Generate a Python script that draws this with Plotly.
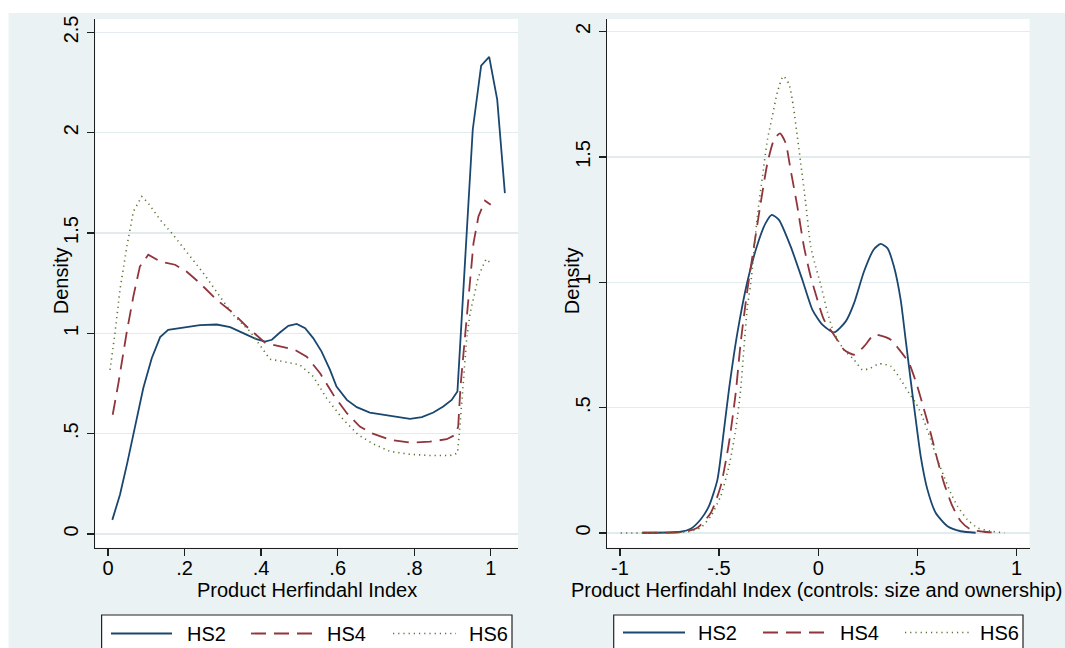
import plotly.graph_objects as go

# ---------------- data ----------------
series_names = ["HS2", "HS4", "HS6"]

# Left panel: Product Herfindahl Index
left_hs2_x = [0.011, 0.031, 0.050, 0.070, 0.092, 0.114, 0.136, 0.157, 0.214, 0.240,
              0.284, 0.319, 0.353, 0.388, 0.410, 0.428, 0.449, 0.471, 0.493, 0.515,
              0.536, 0.558, 0.580, 0.597, 0.624, 0.650, 0.684, 0.737, 0.789, 0.820,
              0.850, 0.876, 0.898, 0.913, 0.953, 0.975, 0.996, 1.017, 1.037]
left_hs2_y = [0.07, 0.195, 0.353, 0.535, 0.727, 0.876, 0.981, 1.017, 1.031, 1.041,
              1.044, 1.031, 1.001, 0.971, 0.959, 0.968, 1.004, 1.037, 1.047, 1.026,
              0.976, 0.909, 0.818, 0.735, 0.668, 0.632, 0.605, 0.589, 0.574, 0.582,
              0.605, 0.635, 0.668, 0.710, 2.015, 2.334, 2.378, 2.165, 1.699]

left_hs4_x = [0.012, 0.027, 0.049, 0.066, 0.083, 0.105, 0.136, 0.175, 0.205, 0.240,
              0.284, 0.327, 0.362, 0.410, 0.432, 0.488, 0.519, 0.554, 0.589, 0.624,
              0.658, 0.689, 0.737, 0.789, 0.841, 0.885, 0.907, 0.915, 0.921, 0.933,
              0.955, 0.968, 0.985, 1.000]
left_hs4_y = [0.594, 0.752, 1.009, 1.184, 1.333, 1.392, 1.358, 1.342, 1.308, 1.250,
              1.167, 1.101, 1.034, 0.954, 0.943, 0.918, 0.884, 0.801, 0.693, 0.602,
              0.535, 0.502, 0.469, 0.455, 0.460, 0.472, 0.494, 0.535, 0.735, 1.001,
              1.450, 1.583, 1.661, 1.641]

left_hs6_x = [0.005, 0.018, 0.031, 0.049, 0.066, 0.088, 0.105, 0.136, 0.170, 0.205,
              0.249, 0.292, 0.327, 0.371, 0.397, 0.423, 0.458, 0.501, 0.536, 0.571,
              0.615, 0.654, 0.693, 0.737, 0.789, 0.841, 0.894, 0.913, 0.918, 0.928,
              0.937, 0.946, 0.959, 0.968, 0.981, 0.988, 1.000]
left_hs6_y = [0.818, 1.001, 1.217, 1.433, 1.607, 1.682, 1.649, 1.566, 1.491, 1.408,
              1.300, 1.184, 1.092, 1.009, 0.943, 0.871, 0.859, 0.843, 0.785, 0.677,
              0.569, 0.494, 0.449, 0.411, 0.397, 0.391, 0.391, 0.402, 0.502, 0.752,
              0.968, 1.100, 1.201, 1.283, 1.342, 1.370, 1.350]

# Right panel: Product Herfindahl Index (controls: size and ownership)
right_hs2_x = [-0.887, -0.693, -0.643, -0.593, -0.551, -0.508, -0.475, -0.450, -0.407, -0.357,
               -0.307, -0.265, -0.234, -0.198, -0.139, -0.080, -0.029, 0.021, 0.080, 0.139,
               0.181, 0.231, 0.281, 0.315, 0.349, 0.382, 0.416, 0.441, 0.466, 0.492,
               0.517, 0.551, 0.593, 0.652, 0.719, 0.794]
right_hs2_y = [0.001, 0.005, 0.017, 0.054, 0.107, 0.213, 0.412, 0.572, 0.800, 1.003,
               1.149, 1.236, 1.269, 1.249, 1.143, 1.010, 0.890, 0.831, 0.800, 0.844,
               0.917, 1.043, 1.132, 1.153, 1.136, 1.063, 0.930, 0.771, 0.612, 0.452,
               0.306, 0.173, 0.080, 0.027, 0.007, 0.001]

right_hs4_x = [-0.887, -0.677, -0.609, -0.542, -0.492, -0.450, -0.416, -0.391, -0.357, -0.324,
               -0.290, -0.256, -0.223, -0.193, -0.164, -0.139, -0.105, -0.072, -0.038, -0.004,
               0.029, 0.080, 0.130, 0.181, 0.231, 0.281, 0.315, 0.366, 0.416, 0.458,
               0.500, 0.534, 0.567, 0.601, 0.634, 0.677, 0.719, 0.769, 0.836, 0.904]
right_hs4_y = [0.001, 0.005, 0.021, 0.080, 0.186, 0.359, 0.558, 0.758, 0.970, 1.143,
               1.316, 1.475, 1.568, 1.594, 1.555, 1.448, 1.302, 1.143, 1.023, 0.930,
               0.851, 0.790, 0.731, 0.711, 0.744, 0.791, 0.787, 0.771, 0.724, 0.678,
               0.585, 0.492, 0.399, 0.293, 0.200, 0.107, 0.047, 0.014, 0.005, 0.001]

right_hs6_x = [-0.996, -0.660, -0.593, -0.542, -0.492, -0.450, -0.416, -0.391, -0.374, -0.357,
               -0.340, -0.307, -0.281, -0.256, -0.234, -0.205, -0.176, -0.147, -0.125, -0.105,
               -0.088, -0.063, -0.038, -0.013, 0.013, 0.046, 0.080, 0.130, 0.181, 0.223,
               0.265, 0.307, 0.366, 0.416, 0.458, 0.492, 0.525, 0.567, 0.601, 0.634,
               0.668, 0.702, 0.752, 0.803, 0.870, 0.939]
right_hs6_y = [0.000, 0.005, 0.021, 0.067, 0.147, 0.266, 0.412, 0.572, 0.744, 0.904,
               0.995, 1.262, 1.422, 1.568, 1.652, 1.760, 1.822, 1.790, 1.700, 1.580,
               1.475, 1.316, 1.143, 1.063, 0.990, 0.883, 0.798, 0.731, 0.691, 0.651,
               0.658, 0.675, 0.665, 0.612, 0.558, 0.519, 0.465, 0.373, 0.293, 0.226,
               0.160, 0.107, 0.054, 0.021, 0.007, 0.001]

# Tick labels
x_left_tickvals = [0, 0.2, 0.4, 0.6, 0.8, 1]
x_left_ticktext = ["0", ".2", ".4", ".6", ".8", "1"]
y_left_tickvals = [0, 0.5, 1, 1.5, 2, 2.5]
y_left_ticktext = ["0", ".5", "1", "1.5", "2", "2.5"]
x_right_tickvals = [-1, -0.5, 0, 0.5, 1]
x_right_ticktext = ["-1", "-.5", "0", ".5", "1"]
y_right_tickvals = [0, 0.5, 1, 1.5, 2]
y_right_ticktext = ["0", ".5", "1", "1.5", "2"]

x_left_title = "Product Herfindahl Index"
x_right_title = "Product Herfindahl Index (controls: size and ownership)"
y_title = "Density"

# ---------------- styling ----------------
W, H = 1065, 648
FONT = "Liberation Sans, Arial, Helvetica, sans-serif"
FS = 20
BG = "#eaf2f3"
GRID = "#e2ebee"
AXC = "#1e1e1e"

styles = {
    "HS2": dict(color="#1a476f", width=1.8, dash="solid"),
    "HS4": dict(color="#90353b", width=1.8, dash="15px,8px"),
    "HS6": dict(color="#55752f", width=1.6, dash="1.2px,4px"),
}


def px_x(p):
    return p / W


def px_y(p):
    return 1 - p / H


# plot-area pixel boxes (page coordinates; figure sits at the page origin)
L_X0, L_X1 = 95.4, 518.0
R_X0, R_X1 = 607.0, 1029.5
Y_TOP, Y_BOT = 19.0, 547.5

fig = go.Figure()

left_data = {"HS2": (left_hs2_x, left_hs2_y), "HS4": (left_hs4_x, left_hs4_y),
             "HS6": (left_hs6_x, left_hs6_y)}
right_data = {"HS2": (right_hs2_x, right_hs2_y), "HS4": (right_hs4_x, right_hs4_y),
              "HS6": (right_hs6_x, right_hs6_y)}

for name in series_names:
    xs, ys = left_data[name]
    fig.add_trace(go.Scatter(x=xs, y=ys, mode="lines", name=name, showlegend=False,
                             line=dict(**styles[name], shape="linear"),
                             xaxis="x", yaxis="y", hoverinfo="skip"))
for name in series_names:
    xs, ys = right_data[name]
    fig.add_trace(go.Scatter(x=xs, y=ys, mode="lines", name=name, showlegend=False,
                             line=dict(**styles[name], shape="spline", smoothing=0.6),
                             xaxis="x2", yaxis="y2", hoverinfo="skip"))

common = dict(showline=True, linecolor=AXC, linewidth=1.3, ticks="outside", ticklen=7,
              tickwidth=1.3, tickcolor=AXC, zeroline=False, automargin=False,
              fixedrange=True, tickfont=dict(family=FONT, size=FS, color="black"))
xcommon = dict(common, showgrid=False, ticklabelstandoff=-5)
ycommon = dict(common, showgrid=True, gridcolor=GRID, gridwidth=1.4, tickangle=-90,
               ticklabelstandoff=1)

fig.update_layout(
    width=W, height=H,
    margin=dict(l=0, r=0, t=0, b=0),
    paper_bgcolor=BG, plot_bgcolor="white",
    showlegend=False,
    xaxis=dict(xcommon, domain=[px_x(L_X0), px_x(L_X1)], range=[-0.0332, 1.0713],
               tickvals=x_left_tickvals, ticktext=x_left_ticktext, anchor="y"),
    yaxis=dict(ycommon, domain=[px_y(Y_BOT), px_y(Y_TOP)], range=[-0.0677, 2.567],
               tickvals=y_left_tickvals, ticktext=y_left_ticktext, anchor="x"),
    xaxis2=dict(xcommon, domain=[px_x(R_X0), px_x(R_X1)], range=[-1.065, 1.0656],
                tickvals=x_right_tickvals, ticktext=x_right_ticktext, anchor="y2"),
    yaxis2=dict(ycommon, domain=[px_y(Y_BOT), px_y(Y_TOP)], range=[-0.0578, 2.050],
                tickvals=y_right_tickvals, ticktext=y_right_ticktext, anchor="x2"),
)

shapes = []
# white outer strips (top and left), as in the reference image
shapes.append(dict(type="rect", xref="paper", yref="paper", x0=0, x1=1, y0=px_y(13), y1=1,
                   fillcolor="white", line=dict(width=0), layer="below"))
shapes.append(dict(type="rect", xref="paper", yref="paper", x0=0, x1=px_x(8.5), y0=0, y1=1,
                   fillcolor="white", line=dict(width=0), layer="below"))

annotations = []
# axis titles
for cx, txt in [((L_X0 + L_X1) / 2, x_left_title), ((R_X0 + R_X1) / 2 - 2, x_right_title)]:
    annotations.append(dict(x=px_x(cx), y=px_y(590), xref="paper", yref="paper",
                            text=txt, showarrow=False, xanchor="center", yanchor="middle",
                            font=dict(family=FONT, size=FS, color="black")))
for cx in [61, 572]:
    annotations.append(dict(x=px_x(cx), y=px_y((Y_TOP + Y_BOT) / 2 - 2), xref="paper",
                            yref="paper", text=y_title, showarrow=False, textangle=-90,
                            xanchor="center", yanchor="middle",
                            font=dict(family=FONT, size=FS, color="black")))

# legends (drawn per panel, like the reference)
legend_specs = [
    dict(box=(101.6, 512.0), y=633.5,
         samples=[(111, 172), (251, 313), (393, 456)], texts=[187, 327, 469]),
    dict(box=(613.7, 1023.0), y=632.5,
         samples=[(623, 685), (763, 825), (905, 969)], texts=[698, 840, 980]),
]
for spec in legend_specs:
    bx0, bx1 = spec["box"]
    shapes.append(dict(type="rect", xref="paper", yref="paper", x0=px_x(bx0), x1=px_x(bx1),
                       y0=px_y(680), y1=px_y(615), fillcolor="white",
                       line=dict(color="#222222", width=1.2), layer="above"))
    for name, (sx0, sx1), tx in zip(series_names, spec["samples"], spec["texts"]):
        st = styles[name]
        shapes.append(dict(type="line", xref="paper", yref="paper", x0=px_x(sx0),
                           x1=px_x(sx1), y0=px_y(spec["y"]), y1=px_y(spec["y"]),
                           line=dict(color=st["color"], width=st["width"], dash=st["dash"]),
                           layer="above"))
        annotations.append(dict(x=px_x(tx - 2), y=px_y(spec["y"]), xref="paper", yref="paper",
                                text=name, showarrow=False, xanchor="left", yanchor="middle",
                                font=dict(family=FONT, size=FS, color="black")))

fig.update_layout(shapes=shapes, annotations=annotations)

# place the figure at the page origin so it fills the window edge to edge
fig.write_html("out.html",
               config={"displayModeBar": False, "staticPlot": True},
               post_script="document.body.style.margin='0';"
                           "document.documentElement.style.overflow='hidden';")
